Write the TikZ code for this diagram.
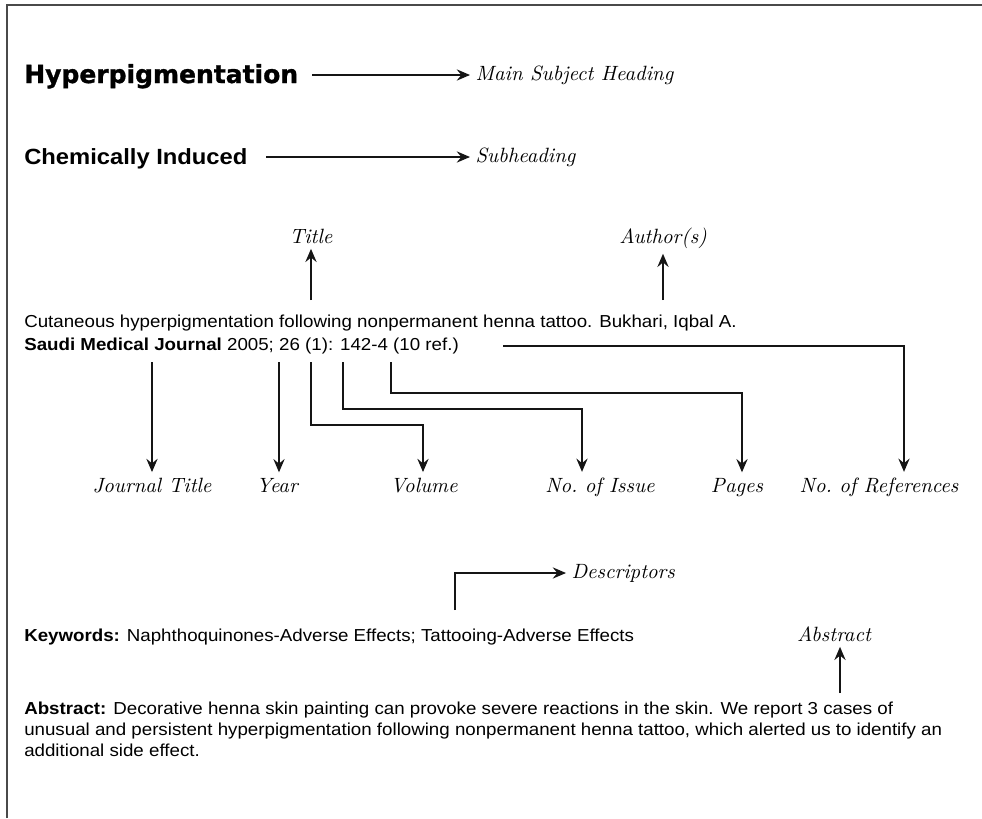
\documentclass[tikz,border=0pt]{standalone}
\usepackage{fontspec}
\setsansfont{Liberation Sans}[FakeStretch=1.08]
\newfontfamily\headfont{DejaVu Sans}[BoldFeatures={FakeBold=1.2}]
\newfontfamily\lblfont{lmroman10-italic}[Extension=.otf]
\usepackage{tikz}
\usetikzlibrary{arrows.meta}
\definecolor{ink}{HTML}{151515}
\definecolor{rule}{HTML}{4A4A4A}

\begin{document}
\begin{tikzpicture}[x=0.75pt,y=-0.75pt,
  lbl/.style={font=\lblfont\frenchspacing\fontsize{15.5}{18}\selectfont, inner sep=4pt},
  body/.style={font=\sffamily\fontsize{13}{15.75}\selectfont, inner sep=0pt, anchor=base west},
  conn/.style={draw=ink, line width=0.9pt, -{Stealth[length=10pt,width=8.5pt,inset=3.5pt]}}]
\useasboundingbox (0,0) rectangle (982,818);
% page frame
\draw[rule, line width=1.5pt] (7,818) -- (7,5) -- (982,5);

% headings
\node[font=\headfont\bfseries\fontsize{18.75}{22}\selectfont, anchor=base west, inner sep=0pt] (mainhead) at (24,83) {Hyperpigmentation};
\node[lbl, anchor=west] (mainlbl) at (470,75) {Main Subject Heading};
\coordinate (mainfrom) at (312,75);
\draw[conn] (mainfrom) -- (mainlbl);

\node[font=\sffamily\bfseries\fontsize{16.5}{19}\selectfont, anchor=base west, inner sep=0pt] (subhead) at (24,164) {Chemically Induced};
\node[lbl, anchor=west] (sublbl) at (470,157) {Subheading};
\coordinate (subfrom) at (266,157);
\draw[conn] (subfrom) -- (sublbl);

% citation
\node[body] (line1) at (24,327) {Cutaneous hyperpigmentation following nonpermanent henna tattoo. Bukhari, Iqbal A.};
\node[body] (line2) at (24,350) {\textbf{Saudi Medical Journal} 2005; 26 (1): 142-4 (10 ref.)};

\node[lbl, anchor=base] (title) at (311,243) {Title};
\node[lbl, anchor=base] (author) at (663,243) {Author(s)};
\coordinate (titlefrom) at (311,300);
\coordinate (authorfrom) at (663,300);
\draw[conn] (titlefrom) -- (title);
\draw[conn] (authorfrom) -- (author);

% parts of the citation
\node[lbl, anchor=base] (jtitle) at (152,492) {Journal Title};
\node[lbl, anchor=base] (year) at (277,492) {Year};
\node[lbl, anchor=base] (volume) at (424,492) {Volume};
\node[lbl, anchor=base] (issue) at (600,492) {No. of Issue};
\node[lbl, anchor=base] (pages) at (737,492) {Pages};
\node[lbl, anchor=base] (refs) at (879,492) {No. of References};

\coordinate (jtfrom) at (152,362);
\coordinate (yearfrom) at (279,362);
\coordinate (volfrom) at (311,362);
\coordinate (issuefrom) at (343,362);
\coordinate (pagesfrom) at (391,362);
\coordinate (reffrom) at (503,346);
\coordinate (volcorner) at (423,425);
\coordinate (issuecorner) at (582,409);
\coordinate (pagescorner) at (742,393);
\coordinate (refcorner) at (904,346);

\draw[conn] (jtfrom) -- (jtfrom |- jtitle.north);
\draw[conn] (yearfrom) -- (yearfrom |- year.north);
\draw[conn] (volfrom) |- (volcorner) -- (volcorner |- volume.north);
\draw[conn] (issuefrom) |- (issuecorner) -- (issuecorner |- issue.north);
\draw[conn] (pagesfrom) |- (pagescorner) -- (pagescorner |- pages.north);
\draw[conn] (reffrom) -- (refcorner) -- (refcorner |- refs.north);

% keywords
\node[lbl, anchor=west] (desc) at (566,573) {Descriptors};
\coordinate (descfrom) at (455,610);
\draw[conn] (descfrom) |- (desc);
\node[body] (keys) at (24,641) {\textbf{Keywords:} Naphthoquinones-Adverse Effects; Tattooing-Adverse Effects};

% abstract
\node[lbl, anchor=base] (abslbl) at (834,641) {Abstract};
\coordinate (absfrom) at (840,693);
\draw[conn] (absfrom) -- (absfrom |- abslbl.south);
\node[body, anchor=north west, align=left] (abstract) at (24,702) {\textbf{Abstract:} Decorative henna skin painting can provoke severe reactions in the skin. We report 3 cases of\\
unusual and persistent hyperpigmentation following nonpermanent henna tattoo, which alerted us to identify an\\
additional side effect.};
\end{tikzpicture}
\end{document}
